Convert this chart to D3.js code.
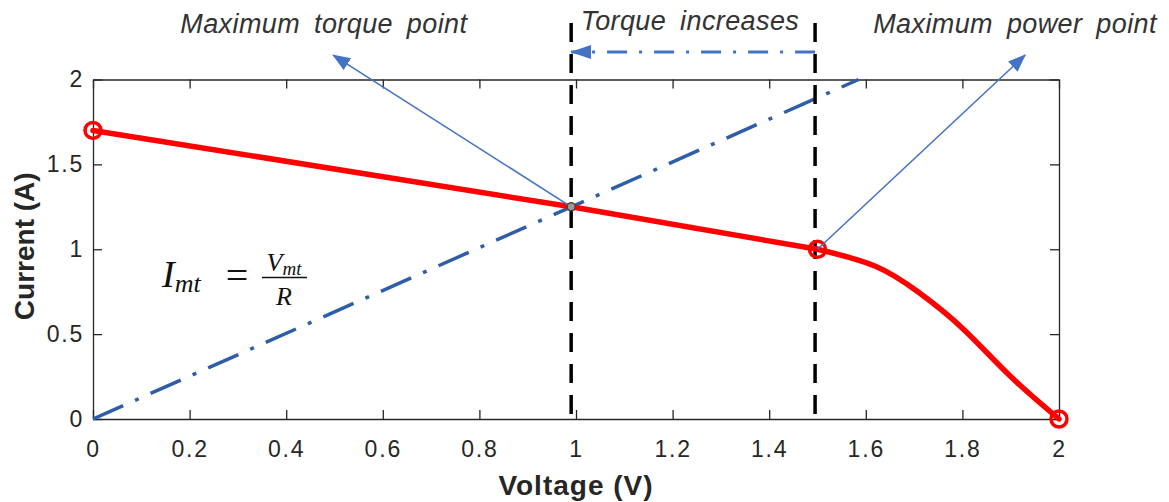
<!DOCTYPE html>
<html>
<head>
<meta charset="utf-8">
<script src="https://cdn.jsdelivr.net/npm/d3@7"></script>
<style>
  body { margin: 0; background: #fff; }
  svg { display: block; }
  .tick text { font-family: "Liberation Sans", Arial, sans-serif; font-size: 23px; letter-spacing: 1.8px; fill: #262626; }
  .domain, .tick line { stroke: #262626; stroke-width: 1.3; }
</style>
</head>
<body>
<script>
// red I-V curve of the source: straight part, then the knee
var voltage = [0, 0.99, 1.5];
var current = [1.7, 1.25, 1.0];
var kneeV = [1.5, 1.62, 1.71, 1.80, 1.90, 2.0];
var kneeI = [1.0, 0.90, 0.745, 0.535, 0.25, 0];

// circled points on the curve
var markerV = [0, 1.5, 2];
var markerI = [1.7, 1.0, 0];

// load line I = V/R
var loadV = [0, 1.585];
var loadI = [0, 2.0];

// operating point (max torque) and the two vertical markers
var opPoint = [0.99, 1.25];
var vlines = [0.99, 1.495];

var xTicks = [0, 0.2, 0.4, 0.6, 0.8, 1, 1.2, 1.4, 1.6, 1.8, 2];
var yTicks = [0, 0.5, 1, 1.5, 2];

// annotation anchors in data units
var torqueTip = [0.497, 2.144];
var powerTip = [1.93, 2.144];
var shiftY = 2.162;
var vlineTop = 2.333;
var labels = [
  { text: "Maximum torque point", x: 0.478, y: 2.272 },
  { text: "Torque increases", x: 1.236, y: 2.29 },
  { text: "Maximum power point", x: 1.909, y: 2.272 }
];

var width = 1169, height = 502;
var margin = { left: 93, right: 110, top: 79.5, bottom: 83 };

var svg = d3.select("body").append("svg")
    .attr("width", width)
    .attr("height", height);

var x = d3.scaleLinear().domain([0, 2]).range([margin.left, width - margin.right]);
var y = d3.scaleLinear().domain([0, 2]).range([height - margin.bottom, margin.top]);

var defs = svg.append("defs");
defs.append("marker")
    .attr("id", "head")
    .attr("markerUnits", "userSpaceOnUse")
    .attr("viewBox", "0 0 18 14")
    .attr("markerWidth", 18)
    .attr("markerHeight", 14)
    .attr("refX", 17)
    .attr("refY", 7)
    .attr("orient", "auto")
    .append("path")
    .attr("d", "M0,0L18,7L0,14Z")
    .attr("fill", "#4472c4");
defs.append("marker")
    .attr("id", "head2")
    .attr("markerUnits", "userSpaceOnUse")
    .attr("viewBox", "0 0 21 14")
    .attr("markerWidth", 21)
    .attr("markerHeight", 14)
    .attr("refX", 20)
    .attr("refY", 7)
    .attr("orient", "auto")
    .append("path")
    .attr("d", "M0,0L21,7L0,14Z")
    .attr("fill", "#4472c4");

// axes, ticks pointing inward on all four sides
svg.append("g")
    .attr("transform", "translate(0," + y(0) + ")")
    .call(d3.axisBottom(x).tickValues(xTicks).tickFormat(d3.format("~g"))
        .tickSizeInner(-9).tickSizeOuter(0).tickPadding(22));
svg.append("g")
    .attr("transform", "translate(0," + y(2) + ")")
    .call(d3.axisTop(x).tickValues(xTicks).tickFormat("")
        .tickSizeInner(-9).tickSizeOuter(0));
svg.append("g")
    .attr("transform", "translate(" + x(0) + ",0)")
    .call(d3.axisLeft(y).tickValues(yTicks).tickFormat(d3.format("~g"))
        .tickSizeInner(-9).tickSizeOuter(0).tickPadding(9));
svg.append("g")
    .attr("transform", "translate(" + x(2) + ",0)")
    .call(d3.axisRight(y).tickValues(yTicks).tickFormat("")
        .tickSizeInner(-9).tickSizeOuter(0));

// axis titles
svg.append("text")
    .attr("x", (x(0) + x(2)) / 2)
    .attr("y", 495)
    .attr("text-anchor", "middle")
    .style("font-family", "Liberation Sans, Arial, sans-serif")
    .style("font-weight", "bold")
    .style("font-size", "28px")
    .style("letter-spacing", "1px")
    .attr("fill", "#262626")
    .text("Voltage (V)");
svg.append("text")
    .attr("transform", "translate(34," + ((y(0) + y(2)) / 2 - 3) + ") rotate(-90)")
    .attr("text-anchor", "middle")
    .style("font-family", "Liberation Sans, Arial, sans-serif")
    .style("font-weight", "bold")
    .style("font-size", "28px")
    .attr("fill", "#262626")
    .text("Current (A)");

// load line
svg.append("path")
    .datum(d3.zip(loadV, loadI))
    .attr("d", d3.line().x(function(d){ return x(d[0]); }).y(function(d){ return y(d[1]); }))
    .attr("fill", "none")
    .attr("stroke", "#2e5ea8")
    .attr("stroke-width", 3.5)
    .attr("stroke-dasharray", "33,13,4,13");

// vertical dashed markers
svg.selectAll(".vline")
    .data(vlines)
    .enter()
    .append("line")
    .attr("class", "vline")
    .attr("x1", function(d){ return x(d); })
    .attr("x2", function(d){ return x(d); })
    .attr("y1", y(vlineTop))
    .attr("y2", y(0))
    .attr("stroke", "#000")
    .attr("stroke-width", 3.5)
    .attr("stroke-dasharray", "19,12");

// source curve
var lineStraight = d3.line()
    .x(function(d){ return x(d[0]); }).y(function(d){ return y(d[1]); });
var lineKnee = d3.line().curve(d3.curveNatural)
    .x(function(d){ return x(d[0]); }).y(function(d){ return y(d[1]); });
[[lineStraight, d3.zip(voltage, current)], [lineKnee, d3.zip(kneeV, kneeI)]].forEach(function(p){
    svg.append("path")
        .datum(p[1])
        .attr("d", p[0])
        .attr("fill", "none")
        .attr("stroke", "#ff0000")
        .attr("stroke-width", 5.5)
        .attr("stroke-linejoin", "round")
        .attr("stroke-linecap", "round");
});

svg.selectAll(".mk")
    .data(d3.zip(markerV, markerI))
    .enter()
    .append("circle")
    .attr("class", "mk")
    .attr("cx", function(d){ return x(d[0]); })
    .attr("cy", function(d){ return y(d[1]); })
    .attr("r", 8)
    .attr("fill", "none")
    .attr("stroke", "#ff0000")
    .attr("stroke-width", 3.5);

// thin arrows to the labels
svg.append("line")
    .attr("x1", x(opPoint[0])).attr("y1", y(opPoint[1]))
    .attr("x2", x(torqueTip[0])).attr("y2", y(torqueTip[1]))
    .attr("stroke", "#4472c4").attr("stroke-width", 1.6)
    .attr("marker-end", "url(#head)");
svg.append("line")
    .attr("x1", x(markerV[1])).attr("y1", y(markerI[1]))
    .attr("x2", x(powerTip[0])).attr("y2", y(powerTip[1]))
    .attr("stroke", "#4472c4").attr("stroke-width", 1.6)
    .attr("marker-end", "url(#head)");

// operating point
svg.append("circle")
    .attr("cx", x(opPoint[0]))
    .attr("cy", y(opPoint[1]))
    .attr("r", 4)
    .attr("fill", "#9a9a9a")
    .attr("stroke", "#444")
    .attr("stroke-width", 1.5);

// torque shift arrow
svg.append("line")
    .attr("x1", x(vlines[1])).attr("y1", y(shiftY))
    .attr("x2", x(vlines[0])).attr("y2", y(shiftY))
    .attr("stroke", "#4472c4").attr("stroke-width", 3)
    .attr("stroke-dasharray", "20,12,3,12")
    .attr("marker-end", "url(#head2)");

// labels
svg.selectAll(".lbl")
    .data(labels)
    .enter()
    .append("text")
    .attr("class", "lbl")
    .attr("x", function(d){ return x(d.x); })
    .attr("y", function(d){ return y(d.y); })
    .attr("text-anchor", "middle")
    .style("font-family", "Liberation Sans, Arial, sans-serif")
    .style("font-style", "italic")
    .style("font-size", "27px")
    .style("letter-spacing", "0.4px")
    .style("word-spacing", "6px")
    .attr("fill", "#333")
    .text(function(d){ return d.text; });

// formula I_mt = V_mt / R
var eq = svg.append("g")
    .style("font-family", "Liberation Serif, DejaVu Serif, serif")
    .attr("fill", "#111");
var t1 = eq.append("text").attr("x", 162).attr("y", 287)
    .style("font-size", "38px").style("font-style", "italic");
t1.append("tspan").text("I");
t1.append("tspan").attr("dy", 5).style("font-size", "26px").text("mt");
eq.append("text").attr("x", 237).attr("y", 289).attr("text-anchor", "middle")
    .style("font-size", "40px").text("=");
var t2 = eq.append("text").attr("x", 284).attr("y", 271).attr("text-anchor", "middle")
    .style("font-size", "26px").style("font-style", "italic");
t2.append("tspan").text("V");
t2.append("tspan").attr("dy", 4).style("font-size", "19px").text("mt");
eq.append("line").attr("x1", 262).attr("x2", 307).attr("y1", 277.5).attr("y2", 277.5)
    .attr("stroke", "#111").attr("stroke-width", 1.5);
eq.append("text").attr("x", 284).attr("y", 305).attr("text-anchor", "middle")
    .style("font-size", "26px").style("font-style", "italic").text("R");
</script>
</body>
</html>
